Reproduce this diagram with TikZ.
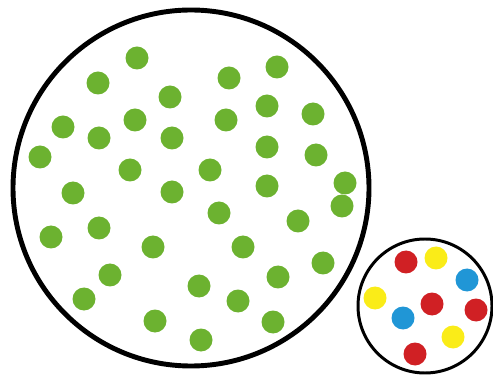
\documentclass[tikz,border=0pt]{standalone}
\usepackage{tikz}
\definecolor{dotgreen}{RGB}{108,178,48}
\definecolor{dotred}{RGB}{208,32,36}
\definecolor{dotyellow}{RGB}{250,236,24}
\definecolor{dotblue}{RGB}{32,150,214}

\begin{document}
\begin{tikzpicture}[x=0.02cm,y=-0.02cm]
  \def\dotr{11.5}         % dot radius in px
  \useasboundingbox (0,0) rectangle (493,381);
  % large container
  \draw[line width=2.8pt] (191,188) circle (178);
  \foreach \x/\y in {%
      137/58, 98/83, 229/78, 277/67, 170/97, 267/106, 135/120, 226/120,
      313/114, 63/127, 99/138, 172/138, 40/157, 130/170, 210/170, 267/147,
      316/155, 73/193, 172/192, 267/186, 345/183, 342/206, 219/213, 298/221,
      51/237, 99/228, 153/247, 243/247, 323/263, 110/275, 199/286, 278/277,
      84/299, 238/301, 155/321, 273/322, 201/340}{
    \fill[dotgreen] (\x,\y) circle (\dotr);
  }
  % small container
  \draw[line width=1.7pt] (425,306) circle (67);
  \foreach \x/\y/\col in {%
      406/262/dotred, 436/258/dotyellow, 467/280/dotblue,
      375/298/dotyellow, 432/304/dotred, 476/310/dotred,
      403/318/dotblue, 453/337/dotyellow, 415/354/dotred}{
    \fill[\col] (\x,\y) circle (\dotr);
  }
\end{tikzpicture}
\end{document}
